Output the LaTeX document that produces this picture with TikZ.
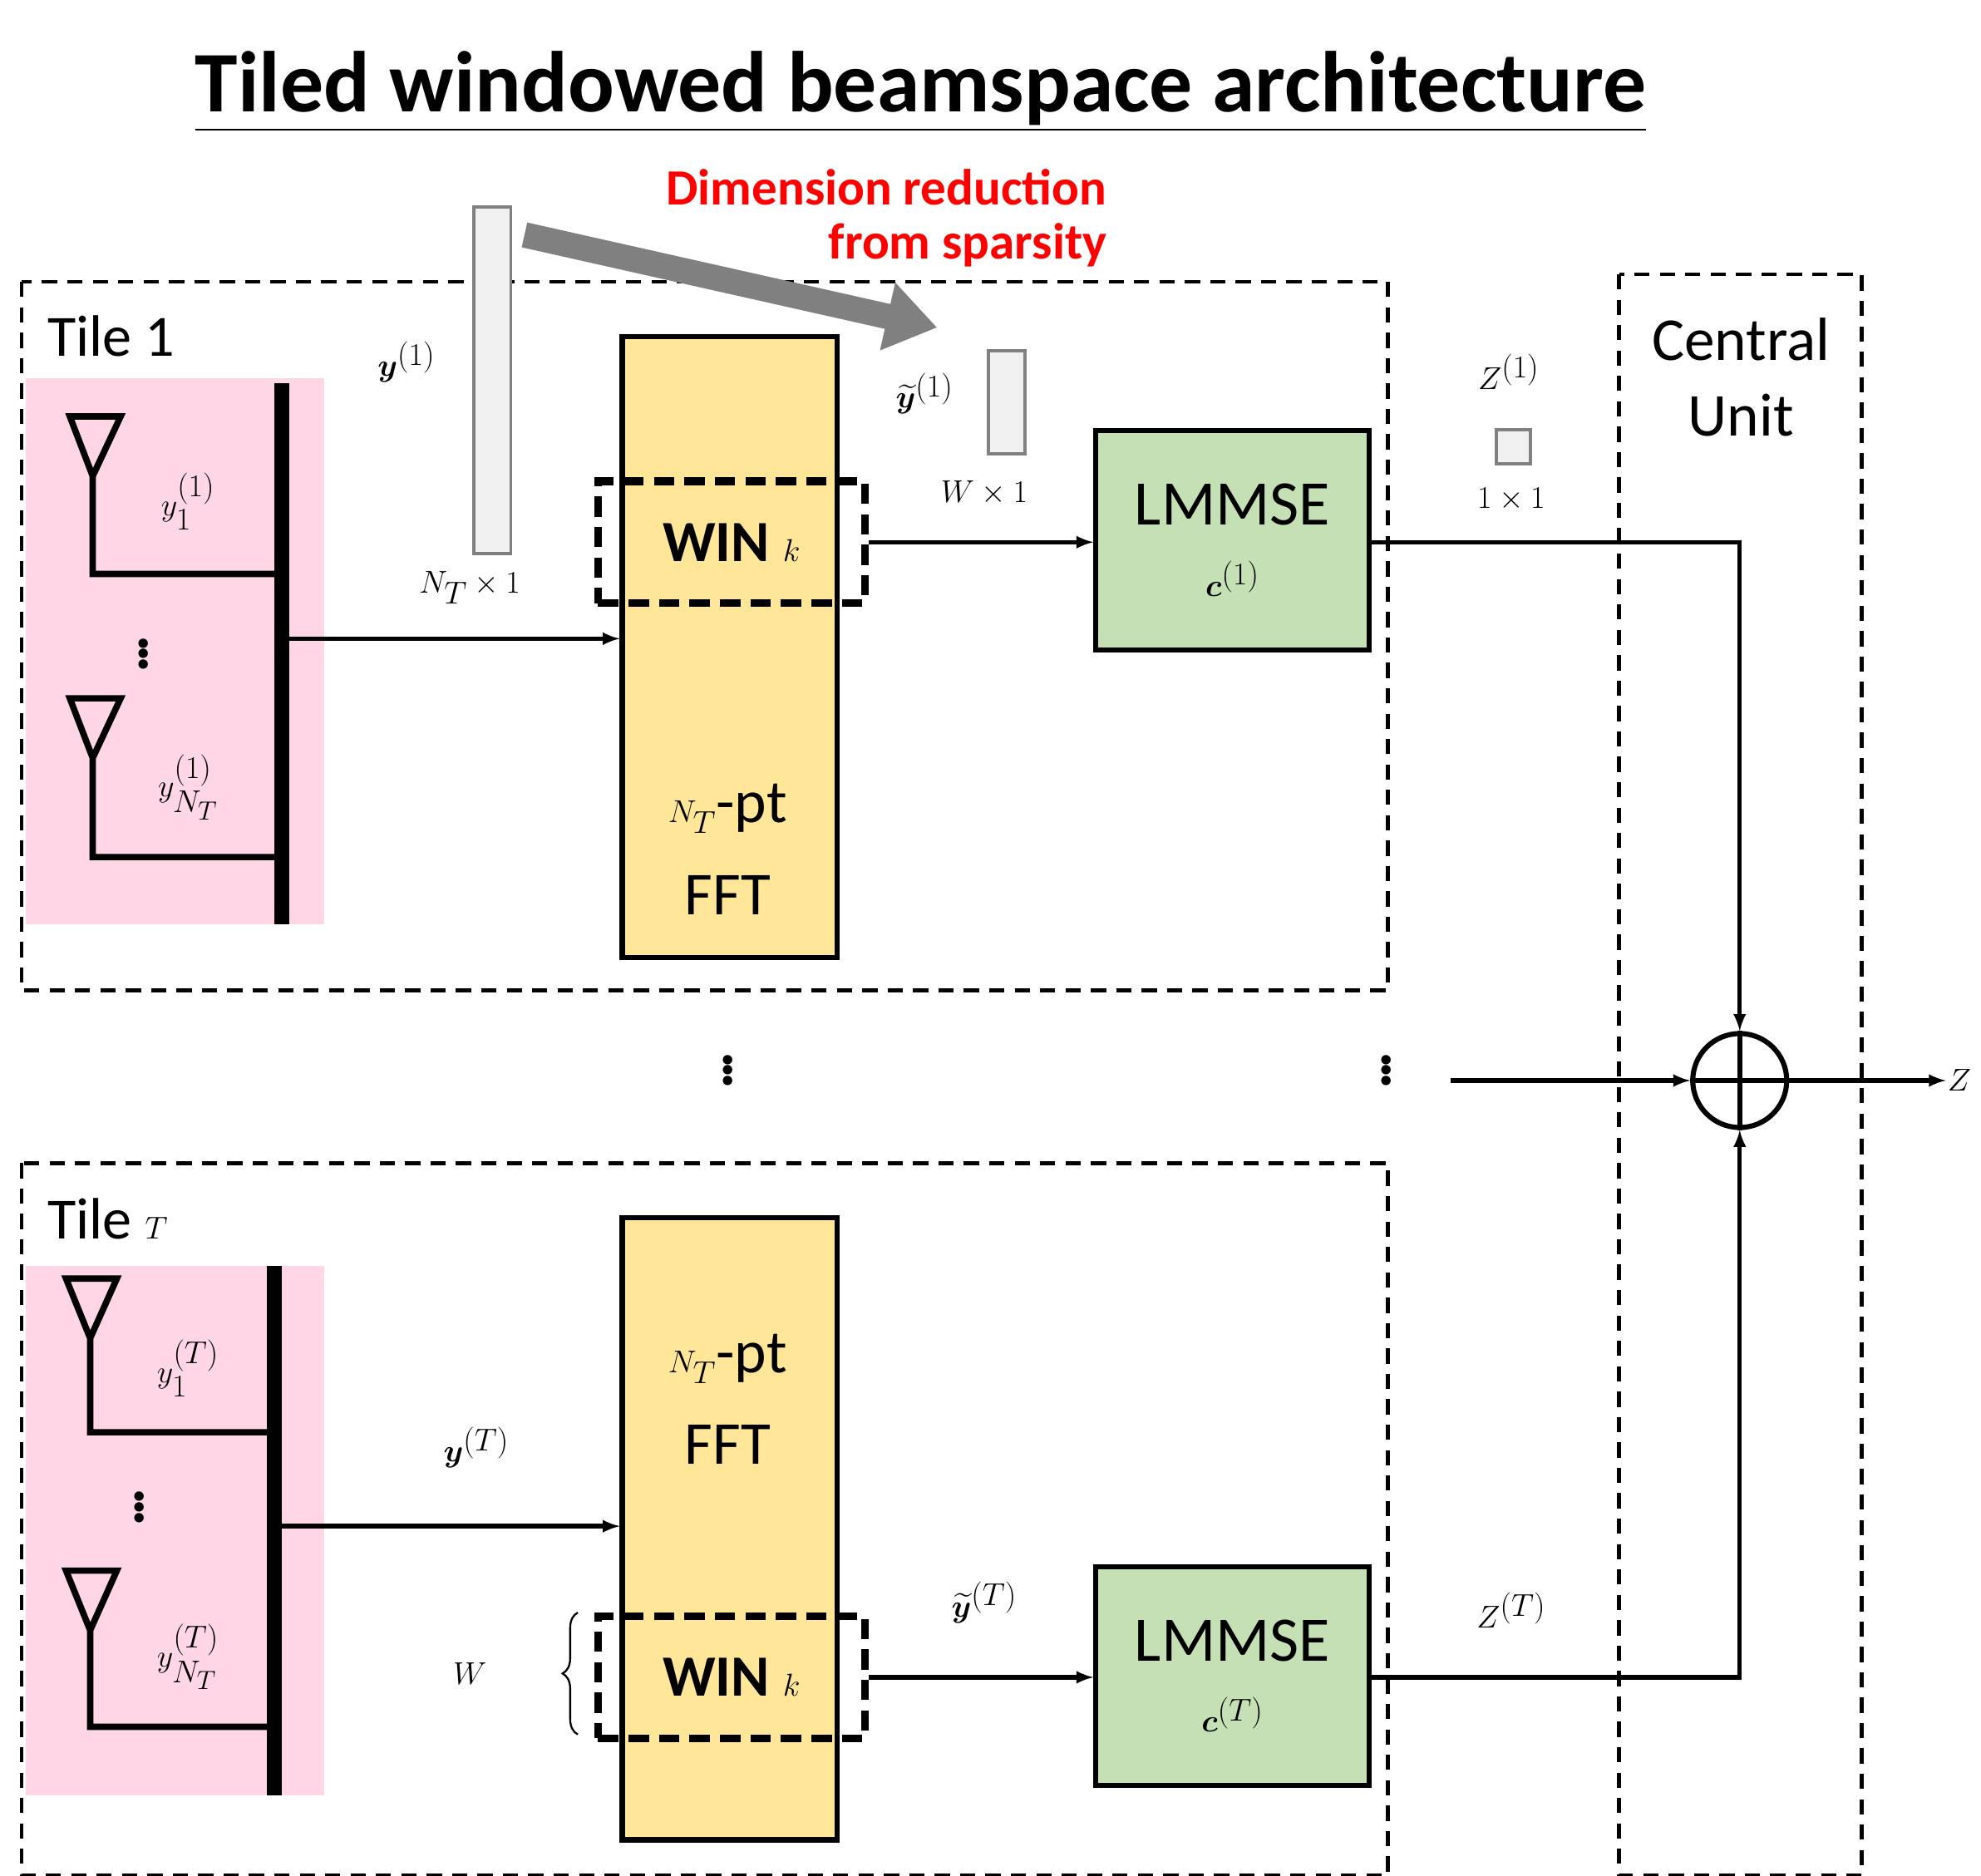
\documentclass[tikz,border=0pt]{standalone}
\usepackage{fontspec}
\setmainfont{Carlito}
\usepackage{amsmath,bm}
\usetikzlibrary{decorations.pathreplacing,arrows.meta}
\definecolor{fftyellow}{RGB}{255,230,153}
\definecolor{lmgreen}{RGB}{197,224,180}
\definecolor{tilepink}{RGB}{255,214,230}
\newcommand{\fs}[1]{\fontsize{#1}{#1}\selectfont}
\tikzset{every picture/.style={line width=3pt}}
\tikzset{
  tilebox/.style={dashed, dash pattern=on 12pt off 8pt, line width=3pt},
  fftbox/.style={draw, line width=4pt, fill=fftyellow, anchor=north west, inner sep=0pt},
  winbox/.style={draw, line width=6pt, dash pattern=on 16pt off 8pt, anchor=north west, inner sep=0pt, font=\fs{46}\bfseries},
  lmbox/.style={draw, line width=4pt, fill=lmgreen, anchor=north west, inner sep=0pt, align=center, font=\fs{50}},
  vecbox/.style={draw=gray, fill=gray!12, line width=2.5pt, anchor=north west, inner sep=0pt},
  lbl/.style={inner sep=0pt, font=\fs{44}},
  ant/.style={line width=5pt},
  arr/.style={-latex, line width=3.5pt},
}
\begin{document}
\begin{tikzpicture}[x=1pt,y=1pt,yscale=-1]
\useasboundingbox (0,0) rectangle (1560,1477);

% title
\node[inner sep=0pt, font=\fs{68}\bfseries] (title) at (725,72) {\underline{Tiled windowed beamspace architecture}};

% dashed frames
\draw[tilebox] (17,222) rectangle (1093,780);
\draw[tilebox] (17,916) rectangle (1093,1477);
\draw[tilebox] (1275,216) rectangle (1466,1477);
\node[lbl, anchor=west, font=\fs{46}] (tile1) at (36,265) {Tile 1};
\node[lbl, anchor=west, font=\fs{46}] (tileT) at (36,960) {Tile $T$};
\node[lbl, align=center, font=\fs{48}] (cu) at (1371,297) {Central\\[12pt]Unit};

% pink antenna areas
\fill[tilepink] (20,298) rectangle (255,728);
\fill[tilepink] (20,997) rectangle (255,1414);

% antennas, tile 1
\draw[line width=12pt] (222,302) -- (222,728);
\draw[ant] (55,328) -- (95,328) -- (73,375) -- cycle (73,375) -- (73,452) -- (222,452);
\draw[ant] (55,550) -- (95,550) -- (73,597) -- cycle (73,597) -- (73,675) -- (222,675);
\node[lbl] (y11) at (148,395) {$y_1^{(1)}$};
\node[lbl, font=\fs{50}\bfseries] (vd1) at (113,512) {$\vdots$};
\node[lbl] (y1N) at (148,620) {$y_{N_T}^{(1)}$};

% antennas, tile T
\draw[line width=12pt] (216,997) -- (216,1414);
\draw[ant] (52,1007) -- (92,1007) -- (71,1054) -- cycle (71,1054) -- (71,1128) -- (216,1128);
\draw[ant] (52,1237) -- (92,1237) -- (71,1284) -- cycle (71,1284) -- (71,1360) -- (216,1360);
\node[lbl] (yT1) at (148,1078) {$y_1^{(T)}$};
\node[lbl, font=\fs{50}\bfseries] (vdT) at (110,1184) {$\vdots$};
\node[lbl] (yTN) at (148,1305) {$y_{N_T}^{(T)}$};

% tile 1 chain
\coordinate (bus1) at (222,503);
\node[fftbox, minimum width=169pt, minimum height=489pt] (fft1) at (488,263) {};
\node[lbl, font=\fs{48}] at (573,637) {$N_T$-pt};
\node[lbl, font=\fs{48}] at (573,705) {FFT};
\node[winbox, minimum width=210pt, minimum height=96pt] (win1) at (468,376) {WIN $k$};
\node[lmbox, minimum width=215pt, minimum height=173pt] (lm1) at (861,337) {LMMSE\\[6pt]$\bm{c}^{(1)}$};
\draw[arr] (bus1) -- (bus1 -| fft1.west);
\node[lbl, font=\fs{40}] (nt1) at (370,463) {$N_T\times 1$};
\draw[arr] (win1.east) -- (lm1.west |- win1.east);
\node[vecbox, minimum width=29pt, minimum height=273pt] (vec1) at (372,162) {};
\node[lbl, font=\fs{48}] (yv1) at (320,285) {$\bm{y}^{(1)}$};
\node[vecbox, minimum width=29pt, minimum height=81pt] (wvec1) at (777,275) {};
\node[lbl, font=\fs{48}] (wy1) at (728,310) {$\widetilde{\bm{y}}^{(1)}$};
\node[lbl, font=\fs{40}] (w1) at (775,388) {$W\times 1$};
\node[lbl, font=\fs{46}] (z1) at (1188,293) {$Z^{(1)}$};
\node[vecbox, minimum width=27pt, minimum height=27pt] (zvec1) at (1177,337) {};
\node[lbl, font=\fs{40}] (o1) at (1190,393) {$1\times 1$};

% dimension reduction arrow
\draw[gray, line width=20pt, -{Triangle[length=40pt,width=52pt]}] (413,185) -- (738,258);
\node[lbl, align=right, anchor=north east, text=red, font=\fs{40}\bfseries] (dim) at (873,132) {Dimension reduction\\[2pt]from sparsity};

% summation
\node[draw, circle, line width=4pt, minimum size=74pt, inner sep=0pt] (sum) at (1370,851) {};
\draw[line width=4pt] (sum.north) -- (sum.south) (sum.west) -- (sum.east);
\draw[arr] (lm1.east |- win1.east) -| (sum.north);
\coordinate (midin) at (1142,851);
\draw[arr] (midin) -- (sum.west);
\node[lbl, font=\fs{48}] (zout) at (1543,851) {$Z$};
\draw[arr] (sum.east) -- (zout.west);
\node[lbl, font=\fs{50}\bfseries] (vdm) at (573,840) {$\vdots$};
\node[lbl, font=\fs{50}\bfseries] (vdr) at (1092,840) {$\vdots$};

% tile T chain
\coordinate (busT) at (216,1202);
\node[fftbox, minimum width=169pt, minimum height=490pt] (fftT) at (488,957) {};
\node[lbl, font=\fs{48}] at (573,1070) {$N_T$-pt};
\node[lbl, font=\fs{48}] at (573,1138) {FFT};
\node[winbox, minimum width=210pt, minimum height=96pt] (winT) at (468,1270) {WIN $k$};
\node[lmbox, minimum width=215pt, minimum height=172pt] (lmT) at (861,1232) {LMMSE\\[6pt]$\bm{c}^{(T)}$};
\draw[arr] (busT) -- (busT -| fftT.west);
\node[lbl, font=\fs{48}] (yvT) at (375,1140) {$\bm{y}^{(T)}$};
\draw[arr] (winT.east) -- (lmT.west |- winT.east);
\node[lbl, font=\fs{48}] (wyT) at (775,1262) {$\widetilde{\bm{y}}^{(T)}$};
\node[lbl, font=\fs{46}] (zT) at (1190,1268) {$Z^{(T)}$};
\draw[arr] (lmT.east |- winT.east) -| (sum.south);
\draw[decorate, decoration={brace, amplitude=12pt}, line width=1.5pt] (455,1366) -- (455,1270);
\node[lbl, font=\fs{40}] (wT) at (370,1318) {$W$};
\end{tikzpicture}
\end{document}
